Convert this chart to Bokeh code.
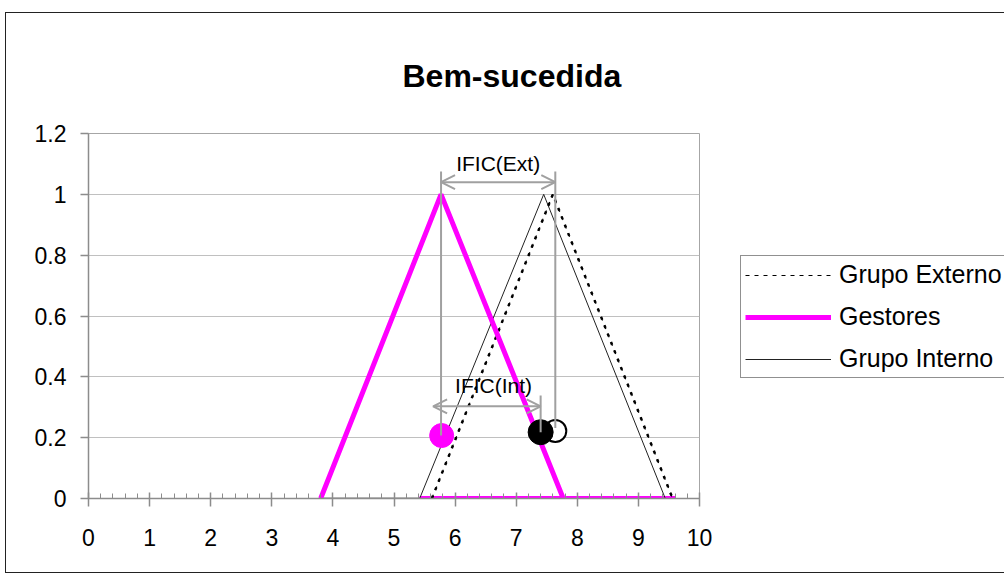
from bokeh.plotting import figure
from bokeh.models import (Range1d, SingleIntervalTicker, FixedTicker, CustomJSTickFormatter,
                          Legend, LegendItem, Label, Arrow, OpenHead)
from bokeh.embed import file_html
from bokeh.resources import INLINE

# ---- data ----
title_text = "Bem-sucedida"
y_ticks = [0, 0.2, 0.4, 0.6, 0.8, 1.0, 1.2]
gestores_x = [3.8, 5.77, 7.77]
gestores_y = [0, 1, 0]
interno_x = [5.42, 7.45, 9.44]
interno_y = [0, 1, 0]
externo_x = [5.62, 7.6, 9.56]
externo_y = [0, 1, 0]
base_black_x = [3.8, 5.42]
base_black_y = [0, 0]
base_magenta_x = [5.42, 9.6]
base_magenta_y = [0, 0]
gestores_pt = (5.78, 0.207)
interno_pt = (7.40, 0.218)
externo_pt = (7.64, 0.222)
ific_ext = (5.77, 7.64, 1.04)   # x_start, x_end, y
ific_int = (5.64, 7.40, 0.303)
legend_labels = ["Grupo Externo", "Gestores", "Grupo Interno"]

FONT = "Liberation Sans"
GREY = "#a0a0a0"

p = figure(frame_width=611, frame_height=365, x_range=Range1d(0, 10), y_range=Range1d(0, 1.2),
           output_backend="svg", toolbar_location=None,
           min_border_left=82, min_border_right=303, min_border_top=120, min_border_bottom=74,
           styles={"border": "1px solid #222", "margin-left": "5px", "margin-top": "12px"})
p.background_fill_color = "white"
p.border_fill_color = "white"
p.outline_line_color = "#a6a6a6"

# title
p.title.text = title_text
p.title.align = "left"
p.title.offset = 314
p.title.text_font = FONT
p.title.text_font_size = "32px"
p.title.text_font_style = "bold"
p.title.text_color = "black"
p.title.standoff = 80

# axes
p.xaxis.ticker = SingleIntervalTicker(interval=1, num_minor_ticks=5)
p.xaxis.major_tick_in = 6
p.xaxis.major_tick_out = 8
p.xaxis.minor_tick_in = 5
p.xaxis.minor_tick_out = 0
p.yaxis.ticker = FixedTicker(ticks=y_ticks)
p.yaxis.major_tick_in = 0
p.yaxis.major_tick_out = 8
p.yaxis.minor_tick_line_color = None
p.yaxis.formatter = CustomJSTickFormatter(code="return (Math.round(tick*10)/10).toString();")
for ax in (p.xaxis, p.yaxis):
    ax.axis_line_color = "#8c8c8c"
    ax.axis_line_width = 1.5
    ax.major_tick_line_color = "#8c8c8c"
    ax.major_tick_line_width = 1.5
    ax.minor_tick_line_color = "#8c8c8c"
    ax.major_label_text_font = FONT
    ax.major_label_text_font_size = "23px"
    ax.major_label_text_color = "black"
p.xaxis.major_label_standoff = 22
p.yaxis.major_label_standoff = 14

p.xgrid.visible = False
p.ygrid.ticker = FixedTicker(ticks=y_ticks)
p.ygrid.grid_line_color = "#c0c0c0"
p.ygrid.grid_line_width = 1

# series
r_base_b = p.line(base_black_x, base_black_y, line_color="black", line_width=1.5)
r_base_m = p.line(base_magenta_x, base_magenta_y, line_color="#ff00ff", line_width=5)
r_int = p.line(interno_x, interno_y, line_color="#222222", line_width=1)
r_ext_thin = p.line(externo_x, externo_y, line_color="black", line_width=1.2, line_dash="4 5")
r_ext = p.line(externo_x, externo_y, line_color="black", line_width=2.5, line_dash="3 6")
r_ges = p.line(gestores_x, gestores_y, line_color="#ff00ff", line_width=5)

# points
p.scatter([externo_pt[0]], [externo_pt[1]], size=22, fill_color="white",
          line_color="black", line_width=2)
p.scatter([interno_pt[0]], [interno_pt[1]], size=25, fill_color="black",
          line_color="black")
p.scatter([gestores_pt[0]], [gestores_pt[1]], size=24, fill_color="#ff00ff",
          line_color="#ff00ff")

# IFIC annotations
p.segment(x0=[ific_ext[0], ific_ext[1], ific_int[1]],
          y0=[ific_ext[2] + 0.035, ific_ext[2] + 0.035, ific_int[2] + 0.036],
          x1=[ific_ext[0], ific_ext[1], ific_int[1]],
          y1=[gestores_pt[1], externo_pt[1] + 0.01, interno_pt[1]],
          line_color=GREY, line_width=2)
for (xs, xe, yy) in (ific_ext, ific_int):
    p.add_layout(Arrow(x_start=xs, y_start=yy, x_end=xe, y_end=yy,
                       line_color=GREY, line_width=2,
                       start=OpenHead(size=14, line_color=GREY, line_width=2),
                       end=OpenHead(size=14, line_color=GREY, line_width=2)))
p.add_layout(Label(x=(ific_ext[0] + ific_ext[1]) / 2, y=1.1, text="IFIC(Ext)",
                   text_align="center", text_baseline="alphabetic",
                   text_font=FONT, text_font_size="21px", text_color="black"))
p.add_layout(Label(x=6.63, y=0.372, text="IFIC(Int)",
                   text_align="center", text_baseline="alphabetic",
                   text_font=FONT, text_font_size="21px", text_color="black"))

# legend
legend = Legend(items=[LegendItem(label=legend_labels[0], renderers=[r_ext_thin]),
                       LegendItem(label=legend_labels[1], renderers=[r_ges]),
                       LegendItem(label=legend_labels[2], renderers=[r_int])],
                location=(41, 120), orientation="vertical",
                label_text_font=FONT, label_text_font_size="25px",
                label_text_color="black",
                glyph_width=86, glyph_height=22, label_height=22,
                label_standoff=8, spacing=13, padding=4, margin=0,
                border_line_color="#222", border_line_width=1,
                background_fill_color="white", background_fill_alpha=1)
p.add_layout(legend, "right")

open("out.html", "w").write(file_html(p, INLINE))
